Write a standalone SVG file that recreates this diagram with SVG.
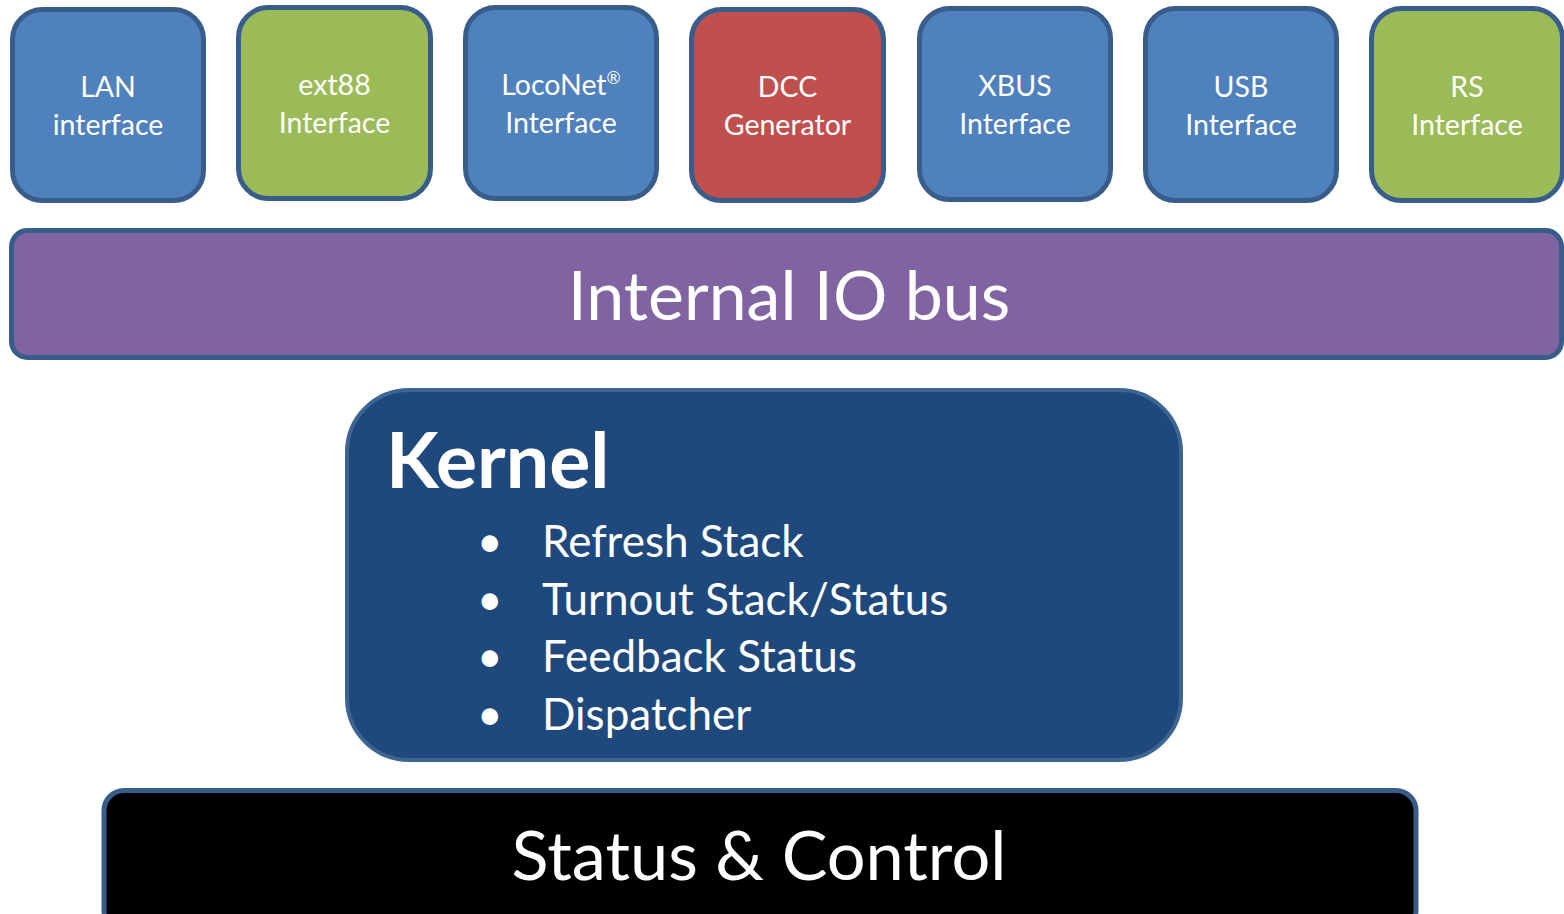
<svg xmlns="http://www.w3.org/2000/svg" width="1564" height="914" viewBox="0 0 1564 914">
<style>
.box{stroke:#385D8A;stroke-width:5}
.blue{fill:#4F81BD}
.green{fill:#9BBB59}
.red{fill:#C0504D}
.t{font-family:Lato,"Open Sans","Liberation Sans",sans-serif;fill:#fff}
.s{font-size:28.5px;text-anchor:middle}
</style>
<rect width="1564" height="914" fill="#fff"/>
<g id="lan"><rect class="box blue" x="12.5" y="9.5" width="191" height="191" rx="30"/><text class="t s" x="108" y="97">LAN</text><text class="t s" x="108" y="135">interface</text></g>
<g id="ext88"><rect class="box green" x="238.5" y="7.5" width="192" height="191" rx="30"/><text class="t s" x="334.5" y="95">ext88</text><text class="t s" x="334.5" y="133">Interface</text></g>
<g id="loconet"><rect class="box blue" x="465.5" y="7.5" width="191" height="191" rx="30"/><text class="t s" x="561" y="95">LocoNet<tspan font-size="17" dy="-11">®</tspan></text><text class="t s" x="561" y="133">Interface</text></g>
<g id="dcc"><rect class="box red" x="691.5" y="9.5" width="192" height="191" rx="30"/><text class="t s" x="787.5" y="97">DCC</text><text class="t s" x="787.5" y="135">Generator</text></g>
<g id="xbus"><rect class="box blue" x="919.5" y="8.5" width="191" height="191" rx="30"/><text class="t s" x="1015" y="96">XBUS</text><text class="t s" x="1015" y="134">Interface</text></g>
<g id="usb"><rect class="box blue" x="1145.5" y="8.5" width="191" height="192" rx="30"/><text class="t s" x="1241" y="97">USB</text><text class="t s" x="1241" y="135">Interface</text></g>
<g id="rs"><rect class="box green" x="1371.5" y="8.5" width="191" height="192" rx="30"/><text class="t s" x="1467" y="97">RS</text><text class="t s" x="1467" y="135">Interface</text></g>
<g id="bus"><rect x="11.5" y="230.5" width="1550" height="127" rx="16" fill="#8064A2" stroke="#385D8A" stroke-width="5"/><text class="t" x="789" y="320" font-size="68" text-anchor="middle">Internal IO bus</text></g>
<g id="kernel"><rect x="347" y="390" width="834" height="370" rx="62" fill="#1F497D" stroke="#3C6592" stroke-width="4"/><text class="t" x="386" y="488" font-size="77" font-weight="bold">Kernel</text>
<g class="t" font-size="44"><text x="477" y="557">•</text><text x="542" y="557">Refresh Stack</text><text x="477" y="615">•</text><text x="542" y="615">Turnout Stack/Status</text><text x="477" y="672">•</text><text x="542" y="672">Feedback Status</text><text x="477" y="730">•</text><text x="542" y="730">Dispatcher</text></g></g>
<g id="status"><rect x="104" y="790.5" width="1312" height="140" rx="20" fill="#000" stroke="#385D8A" stroke-width="5"/><text class="t" x="759" y="880" font-size="68.5" text-anchor="middle">Status &amp; Control</text></g>
<g id="connectors"/>
</svg>
